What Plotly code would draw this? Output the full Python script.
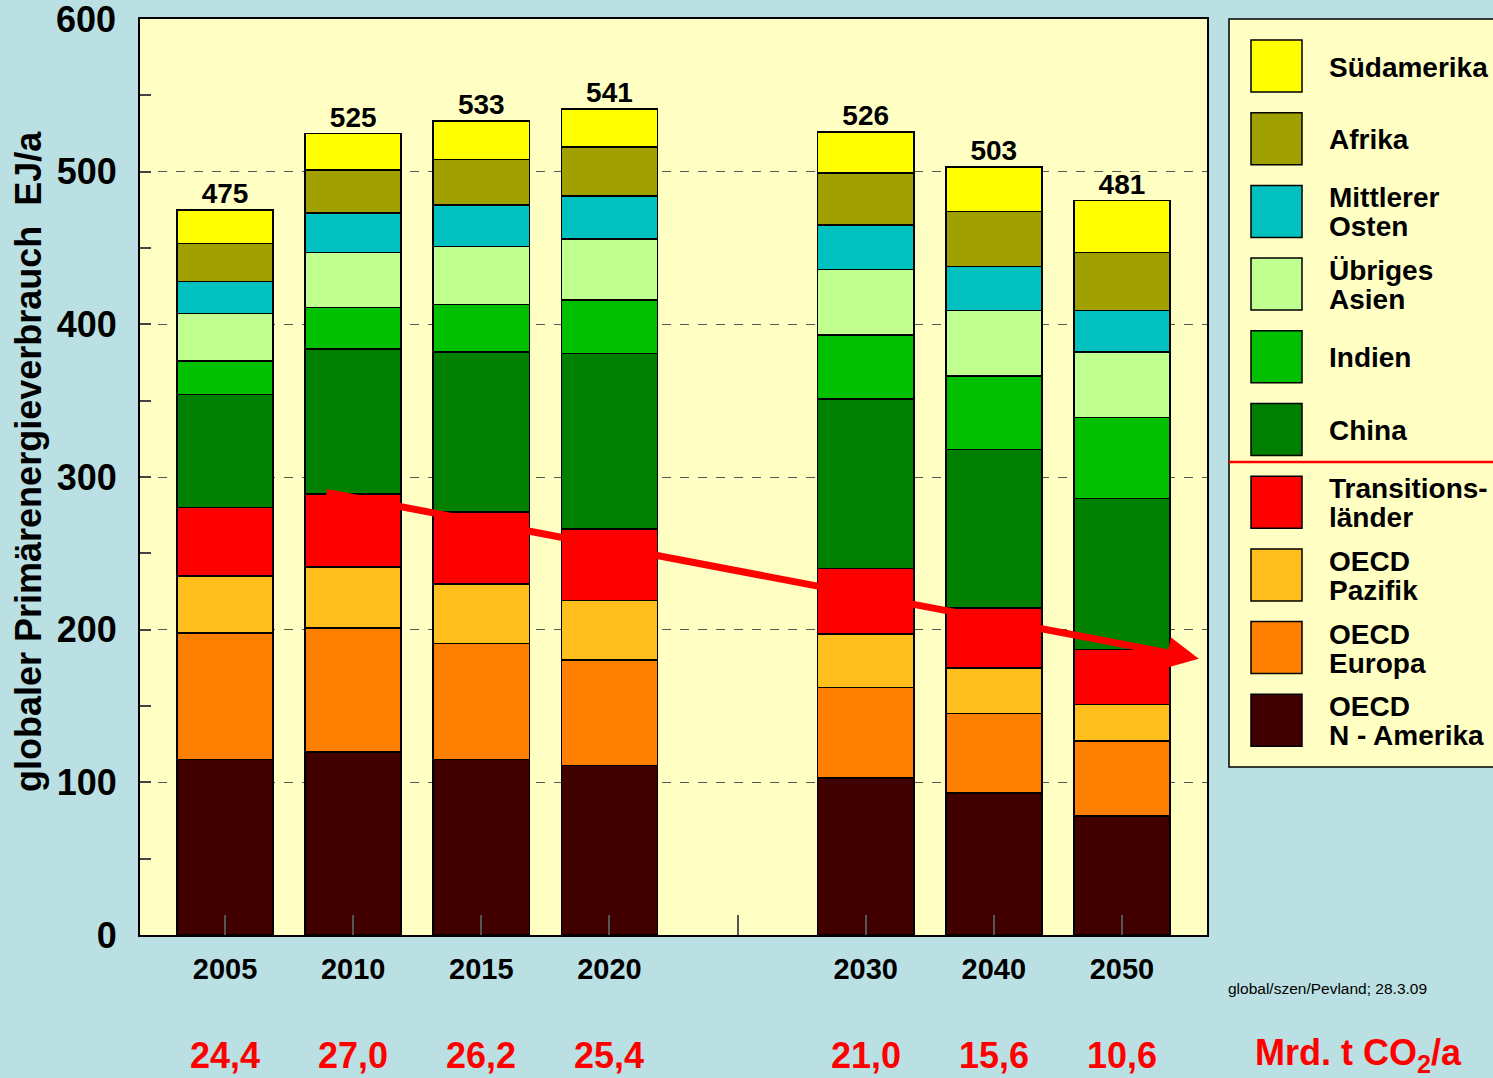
import plotly.graph_objects as go

# ---------------- data ----------------
years = ["2005", "2010", "2015", "2020", "", "2030", "2040", "2050"]
slots = [0, 1, 2, 3, 5, 6, 7]          # slot 4 is the empty gap
y_ticks = [0, 100, 200, 300, 400, 500, 600]

oecd_namerika = [115, 120, 115, 111, 103, 93, 78]
oecd_europa   = [83, 81, 76, 69, 59, 52, 49]
oecd_pazifik  = [37, 40, 39, 39, 35, 30, 24]
transition    = [45, 48, 47, 47, 43, 39, 36]
china         = [74, 95, 105, 115, 111, 104, 99]
indien        = [22, 27, 31, 35, 42, 48, 53]
uebr_asien    = [31, 36, 38, 40, 43, 43, 43]
mittl_osten   = [21, 26, 27, 28, 29, 29, 27]
afrika        = [25, 28, 30, 32, 34, 36, 38]
suedamerika   = [22, 24, 25, 25, 27, 29, 34]

totals = [475, 525, 533, 541, 526, 503, 481]
co2 = ["24,4", "27,0", "26,2", "25,4", "21,0", "15,6", "10,6"]

series = [
    ("OECD N - Amerika", oecd_namerika, "#400000"),
    ("OECD Europa", oecd_europa, "#ff8000"),
    ("OECD Pazifik", oecd_pazifik, "#ffbf1c"),
    ("Transitionsländer", transition, "#ff0000"),
    ("China", china, "#008000"),
    ("Indien", indien, "#00c000"),
    ("Übriges Asien", uebr_asien, "#c0ff90"),
    ("Mittlerer Osten", mittl_osten, "#00c0c0"),
    ("Afrika", afrika, "#a0a000"),
    ("Südamerika", suedamerika, "#ffff00"),
]

# legend (top to bottom), split into lines
legend_items = [
    (["Südamerika"], "#ffff00"),
    (["Afrika"], "#a0a000"),
    (["Mittlerer", "Osten"], "#00c0c0"),
    (["Übriges", "Asien"], "#c0ff90"),
    (["Indien"], "#00c000"),
    (["China"], "#008000"),
    (["Transitions-", "länder"], "#ff0000"),
    (["OECD", "Pazifik"], "#ffbf1c"),
    (["OECD", "Europa"], "#ff8000"),
    (["OECD", "N - Amerika"], "#400000"),
]

# arrow (trend of CO2), data coords
arrow_start = (0.78, 290)
arrow_end = (7.60, 181)

# ---------------- figure ----------------
W, H = 1493, 1078
L, R, T, B = 140, 286, 19, 143
PW, PH = W - L - R, H - T - B
FONT = "Liberation Sans, Arial, sans-serif"

def px_x(px):
    return (px - L) / PW

def px_y(py):
    return (H - B - py) / PH

fig = go.Figure()
for name, vals, col in series:
    fig.add_trace(go.Bar(
        x=slots, y=vals, name=name, width=0.75,
        marker=dict(color=col, line=dict(color="black", width=1.6)),
        showlegend=False, hoverinfo="name+y",
    ))

fig.add_trace(go.Scatter(
    x=slots, y=totals, mode="text", text=[str(t) for t in totals],
    textposition="top center", showlegend=False, cliponaxis=False,
    textfont=dict(family=FONT, size=28, color="black", weight="bold"),
))

fig.update_layout(
    barmode="stack",
    width=W, height=H,
    margin=dict(l=L, r=R, t=T, b=B, pad=0),
    paper_bgcolor="#bae0e3",
    plot_bgcolor="#ffffc4",
    font=dict(family=FONT, color="black"),
    bargap=0.25,
)

fig.update_xaxes(
    range=[-0.664, 7.664], tickmode="array",
    tickvals=list(range(8)), ticktext=years,
    ticks="inside", ticklen=20, tickwidth=2, tickcolor="#555555",
    showline=True, linecolor="black", linewidth=2, mirror=True,
    showgrid=False, zeroline=False,
    tickfont=dict(family=FONT, size=29, color="black", weight="bold"),
    ticklabelstandoff=7,
)
fig.update_yaxes(
    range=[0, 600], tickmode="array", tickvals=y_ticks[:-1],
    ticktext=[str(v) for v in y_ticks[:-1]],
    ticks="inside", ticklen=11, tickwidth=1.5, tickcolor="#444444",
    minor=dict(dtick=50, ticks="inside", ticklen=11, tickcolor="#444444", showgrid=False),
    showline=True, linecolor="black", linewidth=2, mirror=True,
    showgrid=True, gridcolor="#555555", griddash="dash", gridwidth=1,
    zeroline=False,
    tickfont=dict(family=FONT, size=36, color="black", weight="bold"),
    ticklabelstandoff=14,
)

annotations = []
# top tick label (plotly drops the label at the range edge)
annotations.append(dict(
    x=px_x(118), y=y_ticks[-1], xref="paper", yref="y",
    xanchor="right", yanchor="middle", text=str(y_ticks[-1]), showarrow=False,
    font=dict(family=FONT, size=36, color="black", weight="bold"),
))
# y-axis title
annotations.append(dict(
    x=px_x(28), y=px_y(462), xref="paper", yref="paper",
    xanchor="center", yanchor="middle",
    text="globaler Primärenergieverbrauch\u00a0\u00a0EJ/a", textangle=-90,
    showarrow=False, font=dict(family=FONT, size=36, color="black", weight="bold"),
))
# CO2 row
for s, c in zip(slots, co2):
    annotations.append(dict(
        x=s, y=px_y(1055), xref="x", yref="paper", text=c, showarrow=False,
        xanchor="center", yanchor="middle",
        font=dict(family=FONT, size=36, color="#ff0000", weight="bold"),
    ))
annotations.append(dict(
    x=px_x(1358), y=px_y(1055), xref="paper", yref="paper",
    xanchor="center", yanchor="middle",
    text="Mrd. t CO<sub>2</sub>/a", showarrow=False,
    font=dict(family=FONT, size=36, color="#ff0000", weight="bold"),
))
annotations.append(dict(
    x=px_x(1226), y=px_y(988), xref="paper", yref="paper",
    xanchor="left", yanchor="middle",
    text="global/szen/Pevland; 28.3.09", showarrow=False,
    font=dict(family=FONT, size=15.5, color="black"),
))
# arrow
annotations.append(dict(
    x=arrow_end[0], y=arrow_end[1], ax=arrow_start[0], ay=arrow_start[1],
    xref="x", yref="y", axref="x", ayref="y", text="",
    showarrow=True, arrowhead=2, arrowsize=0.9, arrowwidth=7, arrowcolor="#ff0000",
))

shapes = []
# legend box
shapes.append(dict(type="rect", xref="paper", yref="paper",
                   x0=px_x(1229), x1=px_x(1510), y0=px_y(767), y1=px_y(19),
                   fillcolor="#ffffc4", line=dict(color="black", width=1.5), layer="below"))
shapes.append(dict(type="line", xref="paper", yref="paper",
                   x0=px_x(1229), x1=px_x(1510), y0=px_y(462), y1=px_y(462),
                   line=dict(color="#ff0000", width=2.5)))
for k, (lines, col) in enumerate(legend_items):
    top = 40 + 72.7 * k
    shapes.append(dict(type="rect", xref="paper", yref="paper",
                       x0=px_x(1251), x1=px_x(1302), y0=px_y(top + 52), y1=px_y(top),
                       fillcolor=col, line=dict(color="black", width=1.5)))
    cy = top + 27
    offs = [0] if len(lines) == 1 else [-14.5, 14.5]
    for ln, o in zip(lines, offs):
        annotations.append(dict(
            x=px_x(1327), y=px_y(cy + o), xref="paper", yref="paper",
            xanchor="left", yanchor="middle", text=ln, showarrow=False,
            font=dict(family=FONT, size=28, color="black", weight="bold"),
        ))

fig.update_layout(annotations=annotations, shapes=shapes)
fig.write_html("out.html", config={"displayModeBar": False},
               post_script="document.body.style.margin='0';")
